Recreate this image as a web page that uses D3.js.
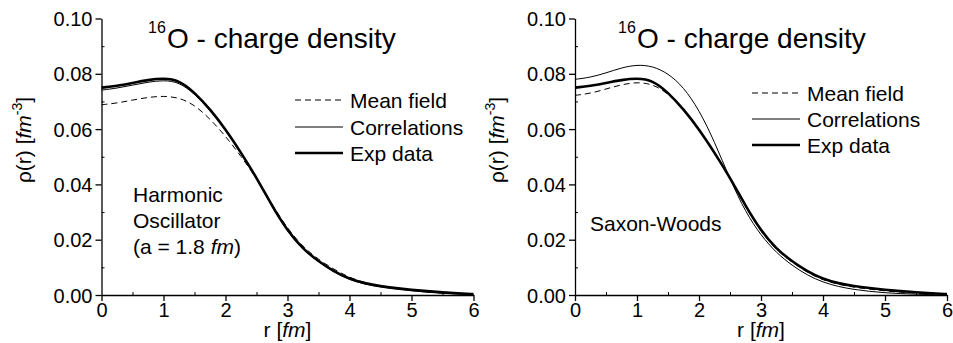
<!DOCTYPE html>
<html>
<head>
    <meta charset="UTF-8">
    <title>16O charge density</title>
    <style>
        body { margin: 0; background: #fff; }
        text { font-family: "Liberation Sans", Arial, sans-serif; fill: #000; }
    </style>
</head>
<body>
<script src="https://cdn.jsdelivr.net/npm/d3@7/dist/d3.min.js"></script>
<script>
    var width = 953;
    var height = 343;

    // r grid (fm)
    var rGrid = [0, 0.25, 0.5, 0.75, 1, 1.25, 1.5, 1.75, 2, 2.25, 2.5, 2.75, 3,
        3.25, 3.5, 3.75, 4, 4.25, 4.5, 4.75, 5, 5.25, 5.5, 5.75, 6];

    // experimental charge density, same in both panels
    var expData = [0.0750, 0.0756, 0.0767, 0.0778, 0.0784, 0.0777, 0.0733, 0.0672, 0.0600, 0.0515, 0.0425,
        0.0322, 0.0232, 0.0166, 0.0122, 0.0085, 0.0058, 0.0042, 0.0032, 0.0025, 0.0019, 0.0014, 0.0010, 0.0006, 0.0003];

    // harmonic oscillator
    var hoMeanField = [0.0688, 0.0694, 0.0705, 0.0715, 0.0720, 0.0714, 0.0688, 0.0637, 0.0575, 0.0502, 0.0422,
        0.0328, 0.0240, 0.0174, 0.0128, 0.0093, 0.0063, 0.0044, 0.0031, 0.0023, 0.0016, 0.0011, 0.0007, 0.0004, 0.0002];
    var hoCorrelations = [0.0741, 0.0748, 0.0759, 0.0770, 0.0777, 0.0770, 0.0728, 0.0669, 0.0598, 0.0513, 0.0423,
        0.0319, 0.0229, 0.0164, 0.0120, 0.0083, 0.0055, 0.0039, 0.0028, 0.0021, 0.0015, 0.0010, 0.0006, 0.0003, 0.0001];

    // saxon-woods
    var swMeanField = [0.0722, 0.0729, 0.0745, 0.0761, 0.0770, 0.0763, 0.0730, 0.0670, 0.0599, 0.0513, 0.0422,
        0.0318, 0.0228, 0.0162, 0.0118, 0.0081, 0.0054, 0.0038, 0.0028, 0.0021, 0.0015, 0.0010, 0.0007, 0.0004, 0.0002];
    var swCorrelations = [0.0780, 0.0787, 0.0803, 0.0822, 0.0833, 0.0828, 0.0802, 0.0752, 0.0670, 0.0555, 0.0418,
        0.0300, 0.0215, 0.0152, 0.0107, 0.0071, 0.0046, 0.0030, 0.0020, 0.0013, 0.0008, 0.0005, 0.0003, 0.0001, 0.0000];

    var xTicks = [0, 1, 2, 3, 4, 5, 6];
    var xMinor = [0.5, 1.5, 2.5, 3.5, 4.5, 5.5];
    var yTicks = [0, 0.02, 0.04, 0.06, 0.08, 0.10];
    var yMinor = [0.01, 0.03, 0.05, 0.07, 0.09];

    var legendNames = ["Mean field", "Correlations", "Exp data"];

    var svg = d3.select("body").append("svg")
        .attr("width", width)
        .attr("height", height);

    svg.append("rect").attr("width", width).attr("height", height).attr("fill", "#fff");

    var panels = [
        {left: 101.5, mean: hoMeanField, corr: hoCorrelations,
            legX: 295, legY: [100, 127, 153], titleX: 148,
            note: ["Harmonic", "Oscillator", "(a = 1.8 |fm|)"], noteX: 133, noteY: 202},
        {left: 575, mean: swMeanField, corr: swCorrelations,
            legX: 752, legY: [93, 119, 145], titleX: 618,
            note: ["Saxon-Woods"], noteX: 590, noteY: 231}
    ];

    var styles = [
        {w: 1, dash: "6,4"},
        {w: 1, dash: null},
        {w: 2.6, dash: null}
    ];

    panels.forEach(function(p) {
        var x = d3.scaleLinear().domain([0, 6]).range([p.left, p.left + 372]);
        var y = d3.scaleLinear().domain([0, 0.1]).range([295, 18.5]);
        var g = svg.append("g");

        // minor ticks (inward)
        g.append("g").attr("transform", "translate(0,295)")
            .call(d3.axisBottom(x).tickValues(xMinor).tickSize(-3).tickFormat(""))
            .call(a => a.select(".domain").remove());
        g.append("g").attr("transform", "translate(" + p.left + ",0)")
            .call(d3.axisLeft(y).tickValues(yMinor).tickSize(-3).tickFormat(""))
            .call(a => a.select(".domain").remove());

        // major axes
        var xa = g.append("g").attr("transform", "translate(0,295)")
            .call(d3.axisBottom(x).tickValues(xTicks).tickSize(6).tickSizeOuter(0).tickPadding(2)
                .tickFormat(d3.format("d")));
        var ya = g.append("g").attr("transform", "translate(" + p.left + ",0)")
            .call(d3.axisLeft(y).tickValues(yTicks).tickSize(6).tickSizeOuter(0).tickPadding(3)
                .tickFormat(d3.format(".2f")));
        [xa, ya].forEach(function(a) {
            a.attr("font-family", null).attr("font-size", 20);
            a.selectAll("path, line").attr("stroke", "#000").attr("stroke-width", 1.3);
        });
        ya.selectAll("text").attr("dy", "0.35em");

        // curves
        var line = d3.line()
            .x((d, i) => x(rGrid[i]))
            .y(d => y(d))
            .curve(d3.curveBasis);

        [p.mean, p.corr, expData].forEach(function(s, k) {
            g.append("path")
                .attr("d", line(s))
                .attr("fill", "none")
                .attr("stroke", "#000")
                .attr("stroke-width", styles[k].w)
                .attr("stroke-dasharray", styles[k].dash);
        });

        // legend
        legendNames.forEach(function(name, k) {
            g.append("line")
                .attr("x1", p.legX).attr("x2", p.legX + 48)
                .attr("y1", p.legY[k]).attr("y2", p.legY[k])
                .attr("stroke", "#000")
                .attr("stroke-width", styles[k].w)
                .attr("stroke-dasharray", styles[k].dash);
            g.append("text")
                .attr("x", p.legX + 55).attr("y", p.legY[k] + 7.5)
                .attr("font-size", 21)
                .text(name);
        });

        // title
        g.append("text").attr("x", p.titleX).attr("y", 33).attr("font-size", 16).text("16");
        g.append("text").attr("x", p.titleX + 19).attr("y", 48).attr("font-size", 28).text("O - charge density");

        // note
        p.note.forEach(function(t, k) {
            var tx = g.append("text").attr("x", p.noteX).attr("y", p.noteY + k * 26).attr("font-size", 21);
            t.split("|").forEach(function(part, j) {
                tx.append("tspan").attr("font-style", j % 2 ? "italic" : null).text(part);
            });
        });

        // axis titles
        var xt = g.append("text")
            .attr("x", x(3)).attr("y", 337)
            .attr("text-anchor", "middle")
            .attr("font-size", 21);
        xt.append("tspan").text("r [");
        xt.append("tspan").attr("font-style", "italic").text("fm");
        xt.append("tspan").text("]");

        var yt = g.append("text")
            .attr("transform", "translate(" + (p.left - 71) + ",140) rotate(-90)")
            .attr("text-anchor", "middle")
            .attr("font-size", 21);
        yt.append("tspan").text("\u03c1(r) [");
        yt.append("tspan").attr("font-style", "italic").text("fm");
        yt.append("tspan").attr("font-size", 14).attr("dy", -9).text("-3");
        yt.append("tspan").attr("dy", 9).text("]");
    });
</script>
</body>
</html>
